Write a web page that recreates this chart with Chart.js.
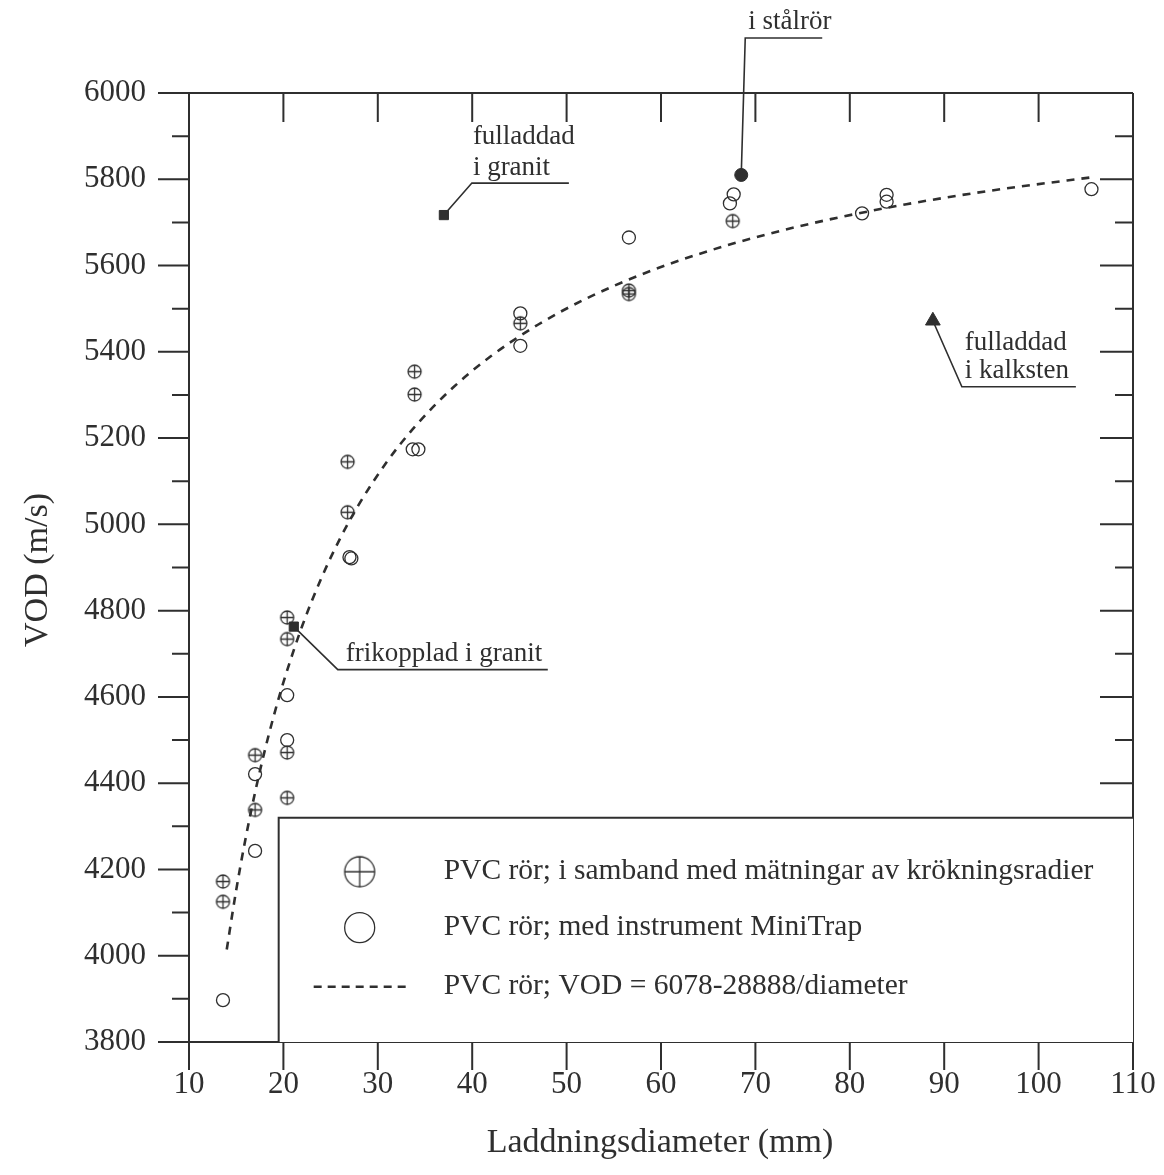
<!DOCTYPE html>
<html>
<head>
<meta charset="utf-8">
<title>VOD mot laddningsdiameter</title>
<script src="https://cdn.jsdelivr.net/npm/chart.js@4.4.1/dist/chart.umd.min.js"></script>
<style>
  html, body { margin: 0; padding: 0; background: #fff; }
  #wrap { width: 1164px; height: 1175px; }
</style>
</head>
<body>
<div id="wrap"><canvas id="vod-graph"></canvas></div>
<script>
const serif = '"Liberation Serif", "DejaVu Serif", serif';
const ink = "#2f2f2f";

// PVC pipe, measured together with curvature radii (crossed circles)
const kroknDiam = [13.6, 13.6, 17.0, 17.0, 20.4, 20.4, 20.4, 20.4, 26.8, 26.8, 33.9, 33.9, 45.1, 56.6, 56.6, 67.6];
const kroknVod  = [4172, 4125, 4465, 4338, 4784, 4734, 4471, 4366, 5145, 5028, 5354, 5301, 5466, 5542, 5534, 5703];

// PVC pipe, MiniTrap instrument (open circles)
const miniDiam = [13.6, 17.0, 17.0, 20.4, 20.4, 27.0, 27.2, 33.7, 34.3, 45.1, 45.1, 56.6, 67.7, 67.3, 81.3, 83.9, 83.9, 105.6];
const miniVod  = [3897, 4421, 4243, 4604, 4500, 4924, 4921, 5174, 5174, 5489, 5414, 5665, 5765, 5744, 5721, 5764, 5748, 5777];

// fitted curve, VOD = 6078-28888/diameter
const fitA = 6078;
const fitB = 28888;
const fitDiam = [14, 15, 16, 17, 18, 19, 20, 22, 24, 26, 28, 31, 34, 38, 42, 47, 52, 58, 64, 71, 78, 86, 95, 105.5];

// single shots in other confinement
const specialLabels = [["fulladdad", "i granit"], ["frikopplad i granit"], ["i stålrör"], ["fulladdad", "i kalksten"]];
const specialDiam  = [37.0, 21.1, 68.5, 88.8];
const specialVod   = [5717, 4763, 5810, 5472];
const specialShape = ["rect", "rect", "circle", "triangle"];

const xTickLabels = [10, 20, 30, 40, 50, 60, 70, 80, 90, 100, 110];
const yTickLabels = [3800, 4000, 4200, 4400, 4600, 4800, 5000, 5200, 5400, 5600, 5800, 6000];

const legendTexts = [
    "PVC rör; i samband med mätningar av krökningsradier",
    "PVC rör; med instrument MiniTrap",
    "PVC rör; VOD = 6078-28888/diameter"
];

// circle with a plus inside, used as point style
function crossedCircle(r, lw) {
    const c = document.createElement("canvas");
    const s = Math.ceil(2 * r + 4);
    c.width = s; c.height = s;
    const g = c.getContext("2d");
    g.strokeStyle = ink;
    g.lineWidth = lw;
    g.beginPath();
    g.arc(s / 2, s / 2, r, 0, Math.PI * 2);
    g.moveTo(s / 2 - r, s / 2); g.lineTo(s / 2 + r, s / 2);
    g.moveTo(s / 2, s / 2 - r); g.lineTo(s / 2, s / 2 + r);
    g.stroke();
    return c;
}
const crossPoint = crossedCircle(6.5, 1.3);
const crossLegend = crossedCircle(15, 1.3);

function pairs(xs, ys) {
    return xs.map((v, i) => ({ x: v, y: ys[i] }));
}

// leader line offsets (px) from each special marker, plus text anchor
const leaders = [
    { path: [[28, -32], [125, -32]], text: [29, -78], lineGap: 31 },
    { path: [[44, 43], [254, 43]], text: [52, 27], lineGap: 0 },
    { path: [[4, -137], [81, -137]], text: [7, -153], lineGap: 0 },
    { path: [[29, 66], [143, 66]], text: [32, 22], lineGap: 28 }
];

const framePlugin = {
    id: "frame",
    afterDatasetsDraw(chart) {
        const { ctx, chartArea: a, scales: { x, y } } = chart;
        ctx.save();
        ctx.strokeStyle = ink;
        ctx.lineWidth = 2;
        ctx.lineCap = "butt";

        // plot frame
        ctx.beginPath();
        ctx.moveTo(a.left - 31, a.top); ctx.lineTo(a.right, a.top);
        ctx.moveTo(a.left - 31, a.bottom); ctx.lineTo(a.right, a.bottom);
        ctx.moveTo(a.left, a.top); ctx.lineTo(a.left, a.bottom);
        ctx.moveTo(a.right, a.top); ctx.lineTo(a.right, a.bottom);
        ctx.stroke();

        // y ticks: outside on the left, inside on the right
        ctx.beginPath();
        for (let v = 3900; v < 6000; v += 100) {
            const py = y.getPixelForValue(v);
            const major = v % 200 === 0;
            ctx.moveTo(a.left - (major ? 31 : 17), py); ctx.lineTo(a.left, py);
            ctx.moveTo(a.right - (major ? 33 : 18), py); ctx.lineTo(a.right, py);
        }
        // x ticks: outside at the bottom, inside at the top
        xTickLabels.forEach(v => {
            const px = x.getPixelForValue(v);
            ctx.moveTo(px, a.bottom); ctx.lineTo(px, a.bottom + 28);
            if (v > 10 && v < 110) {
                ctx.moveTo(px, a.top); ctx.lineTo(px, a.top + 29);
            }
        });
        ctx.stroke();

        // legend box in the lower right corner
        const bx = x.getPixelForValue(19.5);
        const by = y.getPixelForValue(4320);
        ctx.fillStyle = "#fff";
        ctx.fillRect(bx, by, a.right - bx, a.bottom - by);
        ctx.beginPath();
        ctx.moveTo(bx, a.bottom); ctx.lineTo(bx, by); ctx.lineTo(a.right, by);
        ctx.stroke();

        const symX = bx + 81;
        const rows = [by + 54, by + 110, by + 169];
        ctx.drawImage(crossLegend, symX - crossLegend.width / 2, rows[0] - crossLegend.height / 2);
        ctx.lineWidth = 1.3;
        ctx.beginPath();
        ctx.arc(symX, rows[1], 15, 0, Math.PI * 2);
        ctx.stroke();
        ctx.lineWidth = 2.5;
        ctx.setLineDash([8, 6]);
        ctx.beginPath();
        ctx.moveTo(symX - 46, rows[2]); ctx.lineTo(symX + 50, rows[2]);
        ctx.stroke();
        ctx.setLineDash([]);

        ctx.fillStyle = ink;
        ctx.font = "29.5px " + serif;
        ctx.textAlign = "left";
        ctx.textBaseline = "middle";
        legendTexts.forEach((t, i) => ctx.fillText(t, bx + 165, rows[i]));

        // leader lines and labels for the single shots
        ctx.font = "27px " + serif;
        ctx.lineWidth = 1.6;
        specialDiam.forEach((d, i) => {
            const px = x.getPixelForValue(d);
            const py = y.getPixelForValue(specialVod[i]);
            const L = leaders[i];
            ctx.beginPath();
            ctx.moveTo(px, py);
            L.path.forEach(p => ctx.lineTo(px + p[0], py + p[1]));
            ctx.stroke();
            specialLabels[i].forEach((t, k) => {
                ctx.fillText(t, px + L.text[0], py + L.text[1] + k * L.lineGap);
            });
        });

        // axis titles
        ctx.font = "34px " + serif;
        ctx.textAlign = "center";
        ctx.fillText("Laddningsdiameter (mm)", 660, 1143);
        ctx.translate(38, 570);
        ctx.rotate(-Math.PI / 2);
        ctx.fillText("VOD (m/s)", 0, 0);
        ctx.restore();
    }
};

new Chart(document.getElementById("vod-graph"), {
    type: "scatter",
    data: {
        datasets: [
            {
                label: legendTexts[2],
                type: "line",
                data: pairs(fitDiam, fitDiam.map(d => fitA - fitB / d)),
                borderColor: ink,
                borderWidth: 2.6,
                borderDash: [8, 7],
                pointRadius: 0,
                fill: false,
                cubicInterpolationMode: "monotone"
            },
            {
                label: legendTexts[0],
                data: pairs(kroknDiam, kroknVod),
                pointStyle: crossPoint,
                pointRadius: 7
            },
            {
                label: legendTexts[1],
                data: pairs(miniDiam, miniVod),
                pointStyle: "circle",
                pointRadius: 6.5,
                borderColor: ink,
                borderWidth: 1.3,
                backgroundColor: "rgba(0,0,0,0)"
            },
            {
                label: "enstaka försök",
                data: pairs(specialDiam, specialVod),
                pointStyle: specialShape,
                pointRadius: [6.5, 6.5, 6.5, 8.5],
                borderColor: ink,
                borderWidth: 1,
                backgroundColor: ink
            }
        ]
    },
    options: {
        responsive: true,
        maintainAspectRatio: false,
        animation: false,
        events: [],
        layout: { padding: { top: 93, right: 31, left: 0, bottom: 0 } },
        plugins: {
            legend: { display: false },
            tooltip: { enabled: false }
        },
        scales: {
            x: {
                type: "linear",
                min: 10,
                max: 110,
                afterBuildTicks: s => { s.ticks = xTickLabels.map(v => ({ value: v })); },
                afterFit: s => {
                    s.height = 133;
                    s.paddingLeft = 0;
                    s.paddingRight = 0;
                },
                grid: { display: false },
                border: { display: false },
                ticks: {
                    color: ink,
                    padding: 16,
                    maxRotation: 0,
                    font: { family: serif, size: 31 },
                    callback: v => String(v)
                }
            },
            y: {
                type: "linear",
                min: 3800,
                max: 6000,
                afterBuildTicks: s => { s.ticks = yTickLabels.map(v => ({ value: v })); },
                afterFit: s => {
                    s.width = 189;
                    s.paddingTop = 0;
                    s.paddingBottom = 0;
                },
                grid: { display: false },
                border: { display: false },
                ticks: {
                    color: ink,
                    padding: 35,
                    font: { family: serif, size: 31 },
                    callback: v => String(v)
                }
            }
        }
    },
    plugins: [framePlugin]
});
</script>
</body>
</html>
